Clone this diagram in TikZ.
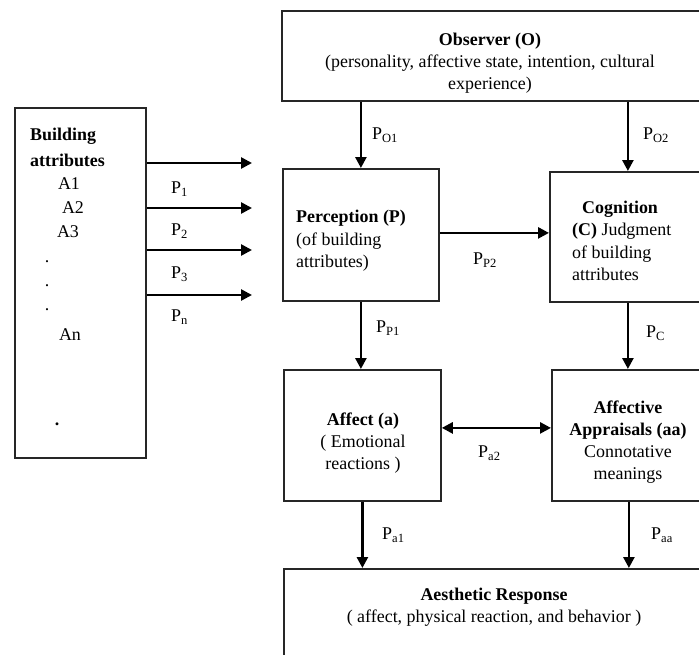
\documentclass[tikz,border=0pt]{standalone}
\usepackage{fontspec}
\setmainfont{Liberation Serif}
\usetikzlibrary{arrows.meta,calc}
\begin{document}
\begin{tikzpicture}[x=1bp,y=-1bp,
 box/.style={draw=black!85,line width=1.8bp,rectangle,anchor=north west,inner sep=0},
 txt/.style={font=\fontsize{18}{22}\selectfont,inner sep=0,align=center},
 ltxt/.style={font=\fontsize{18}{22.5}\selectfont,inner sep=0,align=left,anchor=west},
 lbl/.style={font=\fontsize{18}{20}\selectfont,inner sep=0,anchor=west},
 arr/.style={line width=2.6bp,-{Triangle[length=11bp,width=11bp]}},
 darr/.style={line width=2.6bp,{Triangle[length=11bp,width=11bp]}-{Triangle[length=11bp,width=11bp]}}]
\useasboundingbox (0,0) rectangle (699,655);
% boxes
\node[box,minimum width=131bp,minimum height=350bp] (ba) at (14,107) {};
\node[box,minimum width=424bp,minimum height=90bp] (obs) at (281,10) {};
\node[box,minimum width=156bp,minimum height=132bp] (perc) at (282,168) {};
\node[box,minimum width=156bp,minimum height=130bp] (cog) at (549,171) {};
\node[box,minimum width=157bp,minimum height=131bp] (aff) at (283,369) {};
\node[box,minimum width=154bp,minimum height=131bp] (aa) at (551,369) {};
\node[box,minimum width=422bp,minimum height=100bp] (aes) at (283,568) {};
% texts
\node[txt] (obsT) at (490,63) {\textbf{Observer (O)}\\(personality, affective state, intention, cultural\\experience)};
\node[ltxt] (percT) at (296,241) {\textbf{Perception (P)}\\(of building\\attributes)};
\node[ltxt] (cogT) at (572,241) {\hspace{10bp}\textbf{Cognition}\\\textbf{(C)} Judgment\\of building\\attributes};
\node[txt] (affT) at (363,443) {\textbf{Affect (a)}\\( Emotional\\reactions )};
\node[txt] (aaT) at (628,442) {\textbf{Affective}\\\textbf{Appraisals (aa)}\\Connotative\\meanings};
\node[txt] (aesT) at (494,607) {\textbf{Aesthetic Response}\\( affect, physical reaction, and behavior )};
\node[ltxt,font=\fontsize{18}{26}\selectfont\bfseries] (baT) at (30,147) {Building\\attributes};
\node[txt] (a1) at (69,184) {A1};
\node[txt] (a2) at (73,208) {A2};
\node[txt] (a3) at (68,232) {A3};
\node[txt] (d1) at (47,262) {.};
\node[txt] (d2) at (47,286) {.};
\node[txt] (d3) at (47,310) {.};
\node[txt] (an) at (70,335) {An};
\node[txt] (d4) at (57,424) {\textbf{.}};
% left arrows
\coordinate (e1) at (252,163);
\coordinate (e2) at (252,208);
\coordinate (e3) at (252,250);
\coordinate (e4) at (252,295);
\draw[arr] (ba.east |- e1) -- (e1);
\draw[arr] (ba.east |- e2) -- (e2);
\draw[arr] (ba.east |- e3) -- (e3);
\draw[arr] (ba.east |- e4) -- (e4);
\node[lbl] (p1) at (171,189) {P\textsubscript{1}};
\node[lbl] (p2) at (171,231) {P\textsubscript{2}};
\node[lbl] (p3) at (171,274) {P\textsubscript{3}};
\node[lbl] (pn) at (171,317) {P\textsubscript{n}};
% main arrows
\draw[arr] (obs.south -| perc.north) -- (perc.north);
\draw[arr] (obs.south -| cog.north) -- (cog.north);
\draw[arr] ([yshift=2bp]perc.east) -- ([yshift=2bp]perc.east -| cog.west);
\draw[arr] (perc.south) -- (perc.south |- aff.north);
\draw[arr] (cog.south) -- (cog.south |- aa.north);
\draw[darr] ([yshift=7.5bp]aff.east) -- ([yshift=7.5bp]aff.east -| aa.west);
\draw[arr] (aff.south) -- (aff.south |- aes.north);
\draw[arr] (aa.south) -- (aa.south |- aes.north);
% labels
\node[lbl] (lo1) at (372,135) {P\textsubscript{O1}};
\node[lbl] (lo2) at (643,135) {P\textsubscript{O2}};
\node[lbl] (lp2) at (473,260) {P\textsubscript{P2}};
\node[lbl] (lp1) at (376,328) {P\textsubscript{P1}};
\node[lbl] (lc) at (646,333) {P\textsubscript{C}};
\node[lbl] (la2) at (478,453) {P\textsubscript{a2}};
\node[lbl] (la1) at (382,535) {P\textsubscript{a1}};
\node[lbl] (laa) at (651,535) {P\textsubscript{aa}};
\end{tikzpicture}
\end{document}
